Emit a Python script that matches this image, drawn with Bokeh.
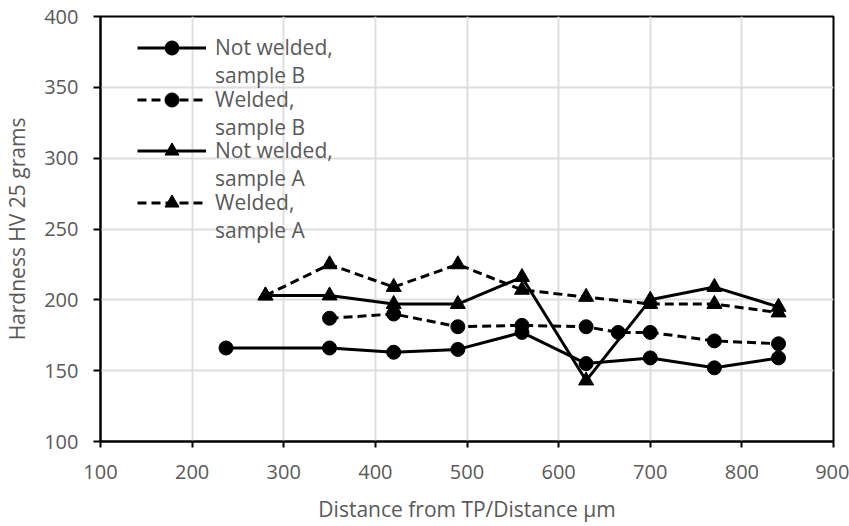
from bokeh.plotting import figure
from bokeh.models import Legend, LegendItem, FixedTicker
from bokeh.embed import file_html
from bokeh.resources import INLINE

# Data
x_nw_b = [237, 350, 420, 490, 560, 630, 700, 770, 840]
y_nw_b = [166, 166, 163, 165, 177, 155, 159, 152, 159]

x_w_b = [350, 420, 490, 560, 630, 665, 700, 770, 840]
y_w_b = [187, 190, 181, 182, 181, 177, 177, 171, 169]

x_nw_a = [280, 350, 420, 490, 560, 630, 700, 770, 840]
y_nw_a = [203, 203, 197, 197, 216, 143, 200, 209, 195]

x_w_a = [280, 350, 420, 490, 560, 630, 700, 770, 840]
y_w_a = [203, 225, 209, 225, 207, 202, 197, 197, 191]

labels = ["Not welded,\nsample B", "Welded,\nsample B", "Not welded,\nsample A", "Welded,\nsample A"]
x_ticks = [100, 200, 300, 400, 500, 600, 700, 800, 900]
y_ticks = [100, 150, 200, 250, 300, 350, 400]

FONT = "Open Sans"
GRAY = "#595959"

p = figure(width=849, height=526, x_range=(100, 900), y_range=(100, 400),
           output_backend="svg", toolbar_location=None,
           min_border_left=100, min_border_right=16, min_border_top=16, min_border_bottom=85)
p.background_fill_color = "white"
p.border_fill_color = "white"
p.outline_line_color = "black"
p.outline_line_width = 2

p.xaxis.ticker = FixedTicker(ticks=x_ticks)
p.yaxis.ticker = FixedTicker(ticks=y_ticks)
for ax in (p.xaxis[0], p.yaxis[0]):
    ax.axis_line_color = "black"
    ax.axis_line_width = 2
    ax.major_tick_line_color = "black"
    ax.major_tick_line_width = 2
    ax.major_tick_in = 0
    ax.major_tick_out = 6
    ax.minor_tick_line_color = None
    ax.major_label_text_font = FONT
    ax.major_label_text_font_size = "20px"
    ax.major_label_text_color = GRAY
    ax.axis_label_text_font = FONT
    ax.axis_label_text_font_size = "21px"
    ax.axis_label_text_font_style = "normal"
    ax.axis_label_text_color = GRAY

p.yaxis.major_tick_out = 7
p.xaxis.axis_label = "Distance from TP/Distance µm"
p.yaxis.axis_label = "Hardness HV 25 grams"
p.xaxis.major_label_standoff = 17
p.yaxis.major_label_standoff = 15
p.xaxis.axis_label_standoff = 13
p.yaxis.axis_label_standoff = 10

p.xgrid.ticker = FixedTicker(ticks=x_ticks)
p.ygrid.ticker = FixedTicker(ticks=y_ticks)
p.grid.grid_line_color = "#dedede"
p.grid.grid_line_width = 2

LW = 3
DASH = "9 5"
r1l = p.line(x_nw_b, y_nw_b, line_color="black", line_width=LW)
r1m = p.scatter(x_nw_b, y_nw_b, marker="circle", size=14, color="black")
r2l = p.line(x_w_b, y_w_b, line_color="black", line_width=LW, line_dash=DASH)
r2m = p.scatter(x_w_b, y_w_b, marker="circle", size=14, color="black")
r3l = p.line(x_nw_a, y_nw_a, line_color="black", line_width=LW)
r3m = p.scatter(x_nw_a, y_nw_a, marker="triangle", size=15, color="black")
r4l = p.line(x_w_a, y_w_a, line_color="black", line_width=LW, line_dash=DASH)
r4m = p.scatter(x_w_a, y_w_a, marker="triangle", size=15, color="black")

# One legend box per entry; a leading blank line puts the glyph level with
# the first text line, as in the reference.
entries = [(labels[0], [r1l, r1m]), (labels[1], [r2l, r2m]),
           (labels[2], [r3l, r3m]), (labels[3], [r4l, r4m])]
offsets = [352, 300, 249, 197]
for (lab, rends), off in zip(entries, offsets):
    lg = Legend(items=[LegendItem(label="\n" + lab, renderers=rends)], location=(37, off))
    lg.background_fill_alpha = 0
    lg.border_line_alpha = 0
    lg.label_text_font = FONT
    lg.label_text_font_size = "21px"
    lg.label_text_line_height = 1.53
    lg.label_text_color = GRAY
    lg.glyph_width = 69
    lg.glyph_height = 35
    lg.label_standoff = 9
    lg.spacing = 0
    lg.padding = 0
    lg.margin = 0
    p.add_layout(lg)

open("out.html", "w").write(file_html(p, INLINE))
